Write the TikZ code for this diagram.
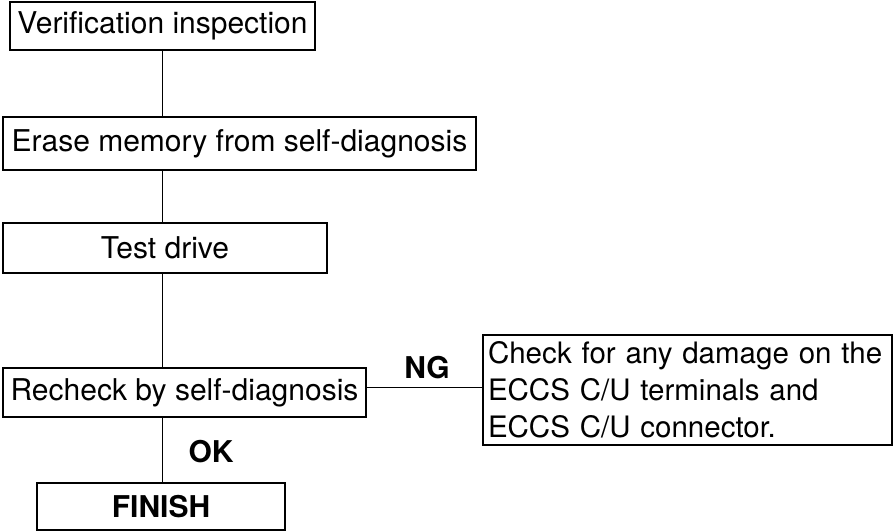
\documentclass[tikz,border=0pt]{standalone}
\usepackage{fontspec}
\setmainfont{TeX Gyre Heros}
\usepackage{tikz}

\begin{document}
\begin{tikzpicture}[x=1pt,y=-1pt,font=\fontsize{30}{37}\selectfont,
  stepbox/.style={draw,line width=1.3pt,inner sep=0pt,align=center},
  link/.style={line width=1pt},
  tag/.style={font=\fontsize{30}{37}\selectfont\bfseries}]
\useasboundingbox (0,0) rectangle (893,531);
\node[stepbox,minimum width=305pt,minimum height=48pt] (ver) at (162.5,26) {Verification inspection};
\node[stepbox,minimum width=473pt,minimum height=53pt] (erase) at (239.5,143.5) {Erase memory from self-diagnosis};
\node[stepbox,minimum width=324pt,minimum height=50pt] (test) at (165,248) {Test drive};
\node[stepbox,minimum width=363pt,minimum height=49pt] (recheck) at (184.5,392.5) {Recheck by self-diagnosis};
\node[stepbox,minimum width=409pt,minimum height=110pt,text width=399pt,align=left,inner xsep=5pt,
  font=\fontsize{29.5}{37}\selectfont] (check) at (687.5,390)
  {Check for any damage on the\\ECCS C/U terminals and\\ECCS C/U connector.};
\node[stepbox,minimum width=248pt,minimum height=47pt] (finish) at (161,506.5) {\bfseries FINISH};
\node[tag] (ng) at (427,368) {NG};
\node[tag] (ok) at (211,452) {OK};
\draw[link] (ver.south) -- (ver.south |- erase.north);
\draw[link] (erase.south -| ver.south) -- (test.north -| ver.south);
\draw[link] (test.south -| ver.south) -- (recheck.north -| ver.south);
\draw[link] ([yshift=5pt]recheck.east) -- ([yshift=5pt]recheck.east -| check.west);
\draw[link] (recheck.south -| ver.south) -- (finish.north -| ver.south);
\end{tikzpicture}
\end{document}
